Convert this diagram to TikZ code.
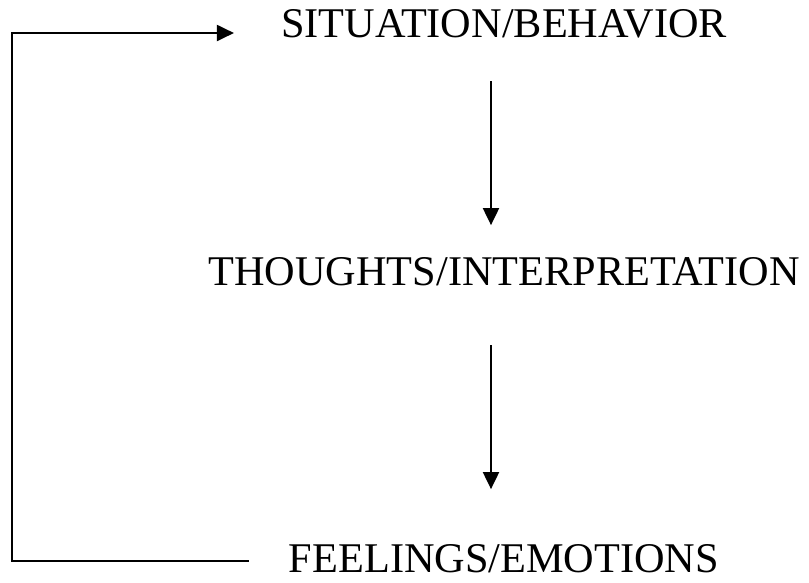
\documentclass[tikz,border=0pt]{standalone}
\usepackage{fontspec}
\setmainfont{Liberation Serif}
\usepackage{tikz}
\usetikzlibrary{arrows.meta, positioning}

\begin{document}
\begin{tikzpicture}[node distance=2cm, on grid,
    stage/.style={inner sep=0pt, font=\fontsize{42.3}{50}\selectfont},
    flow/.style={line width=2pt, -{Triangle[length=17pt, width=16pt]}}]
        \useasboundingbox (0,0) rectangle (809pt,-582pt);
        \node[stage, anchor=base] (sit) at (504pt,-37pt) {SITUATION/BEHAVIOR};
        \node[stage, below=248pt of sit] (tho) {THOUGHTS/INTERPRETATION};
        \node[stage, below=287pt of tho] (fee) {FEELINGS/EMOTIONS};

        \draw[flow] ([xshift=-13pt, yshift=-44pt]sit.base) -- ([xshift=-13pt, yshift=60pt]tho.base);
        \draw[flow] ([xshift=-13pt, yshift=-60pt]tho.base) -- ([xshift=-13pt, yshift=83pt]fee.base);

        \coordinate (corner) at (12pt,0);
        \coordinate (loopout) at ([xshift=-40pt, yshift=11pt]fee.base west);
        \coordinate (loopin) at ([xshift=-47pt, yshift=4pt]sit.base west);
        \draw[flow] (loopout) -- (loopout -| corner) |- (loopin);
    \end{tikzpicture}
\end{document}
